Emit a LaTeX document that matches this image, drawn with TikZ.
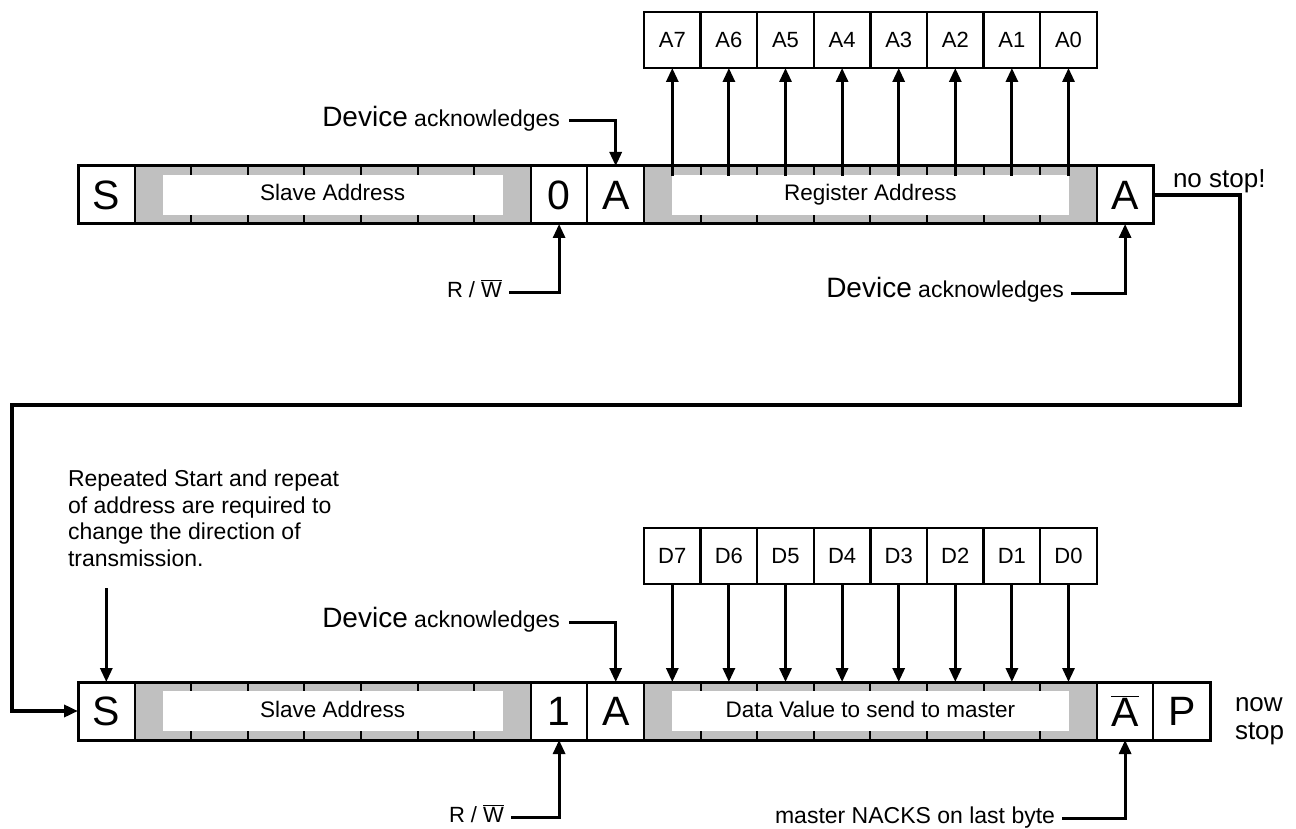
\documentclass[tikz,border=0pt]{standalone}
\usepackage{fontspec}
\setmainfont{Liberation Sans}
\usetikzlibrary{positioning,arrows.meta,calc}
\definecolor{FieldGray}{HTML}{C0C0C0}

\begin{document}
\begin{tikzpicture}[x=1pt,y=-1pt,
  every node/.style={inner sep=0pt,outer sep=0pt},
  cell/.style={draw,line width=2pt,minimum width=56.6pt,minimum height=58pt,font=\fontsize{41}{41}\selectfont},
  field/.style={cell,fill=FieldGray},
  bitbox/.style={draw,line width=2.5pt,minimum width=56.6pt,minimum height=56pt,font=\fontsize{22}{22}\selectfont},
  fieldname/.style={fill=white,minimum height=40pt,text height=16pt,text depth=4pt,font=\fontsize{22.5}{22.5}\selectfont},
  note/.style={font=\fontsize{23}{26.5}\selectfont},
  pointer/.style={line width=3pt,-{Triangle[length=14pt,width=12pt]}}]
  \useasboundingbox (0,0) rectangle (1296,829);

  % write the register address
  \node[cell] (s1) at (106.3,195) {S};
  \foreach \i in {1,...,7}
    \node[field] (sa\i) at ({106.3+\i*56.6},195) {};
  \node[cell] (rw1) at ({106.3+8*56.6},195) {0};
  \node[cell] (ack1) at ({106.3+9*56.6},195) {A};
  \foreach \i in {1,...,8}
    \node[field] (ra\i) at ({615.7+\i*56.6},195) {};
  \node[cell] (ack2) at ({615.7+9*56.6},195) {A};
  \node[fieldname,minimum width=339.6pt] at ($(sa1)!0.5!(sa7)$) {Slave Address};
  \node[fieldname,minimum width=396.2pt] at ($(ra1)!0.5!(ra8)$) {Register Address};
  \draw[line width=3pt] (s1.north west) rectangle (ack2.south east);
  \foreach \b [count=\i] in {7,6,...,0}{
    \node[bitbox] (a\b) at ({615.7+\i*56.6},40) {A\b};
    \draw[pointer] ([yshift=-10pt]ra\i.north) -- (a\b.south);
  }

  \node[note,anchor=base east] (devack1) at (560,127) {{\fontsize{28}{28}\selectfont Device} acknowledges};
  \draw[pointer] ([xshift=9pt,yshift=6pt]devack1.base east) -| (ack1.north);
  \node[font=\fontsize{22}{22}\selectfont,anchor=base east] (rwtxt1) at (502,297) {R / $\overline{\mbox{W}}$};
  \draw[pointer] ([xshift=7pt,yshift=5pt]rwtxt1.base east) -| (rw1.south);
  \node[note,anchor=base east] (devack2) at (1064,297) {{\fontsize{28}{28}\selectfont Device} acknowledges};
  \draw[pointer] ([xshift=7pt,yshift=4pt]devack2.base east) -| (ack2.south);
  \node[font=\fontsize{26}{26}\selectfont,anchor=base west] (nostop) at (1173,188) {no stop!};

  % read it back
  \node[cell] (s2) at (106.3,711) {S};
  \foreach \i in {1,...,7}
    \node[field] (sb\i) at ({106.3+\i*56.6},711) {};
  \node[cell] (rw2) at ({106.3+8*56.6},711) {1};
  \node[cell] (ack3) at ({106.3+9*56.6},711) {A};
  \foreach \i in {1,...,8}
    \node[field] (da\i) at ({615.7+\i*56.6},711) {};
  \node[cell] (nack) at ({615.7+9*56.6},711) {$\overline{\mbox{A}}$};
  \node[cell] (stop) at ({615.7+10*56.6},711) {P};
  \node[fieldname,minimum width=339.6pt] at ($(sb1)!0.5!(sb7)$) {Slave Address};
  \node[fieldname,minimum width=396.2pt] at ($(da1)!0.5!(da8)$) {Data Value to send to master};
  \draw[line width=3pt] (s2.north west) rectangle (stop.south east);
  \foreach \b [count=\i] in {7,6,...,0}{
    \node[bitbox] (d\b) at ({615.7+\i*56.6},556) {D\b};
    \draw[pointer] (d\b.south) -- (da\i.north);
  }

  \coordinate (turnR) at (1240,405);
  \coordinate (turnL) at (12,405);
  \draw[line width=4pt,-{Triangle[length=14pt,width=12pt]}] (ack2.east) -| (turnR) -- (turnL) |- (s2.west);

  \node[note,anchor=north west,align=left] (rsnote) at (68,470) {Repeated Start and repeat\\of address are required to\\change the direction of\\transmission.};
  \coordinate[above=94pt of s2.north] (rsarrow);
  \draw[pointer] (rsarrow) -- (s2.north);
  \node[note,anchor=base east] (devack3) at (560,627) {{\fontsize{28}{28}\selectfont Device} acknowledges};
  \draw[pointer] ([xshift=9pt,yshift=5pt]devack3.base east) -| (ack3.north);
  \node[font=\fontsize{22}{22}\selectfont,anchor=base east] (rwtxt2) at (504,822) {R / $\overline{\mbox{W}}$};
  \draw[pointer] ([xshift=7pt,yshift=5pt]rwtxt2.base east) -| (rw2.south);
  \node[note,anchor=base east] (nacktxt) at (1055,823) {master NACKS on last byte};
  \draw[pointer] ([xshift=7pt,yshift=5pt]nacktxt.base east) -| (nack.south);
  \node[font=\fontsize{26}{28}\selectfont,anchor=north west,align=left] (nowstop) at (1235,698) {now\\stop};
\end{tikzpicture}
\end{document}
